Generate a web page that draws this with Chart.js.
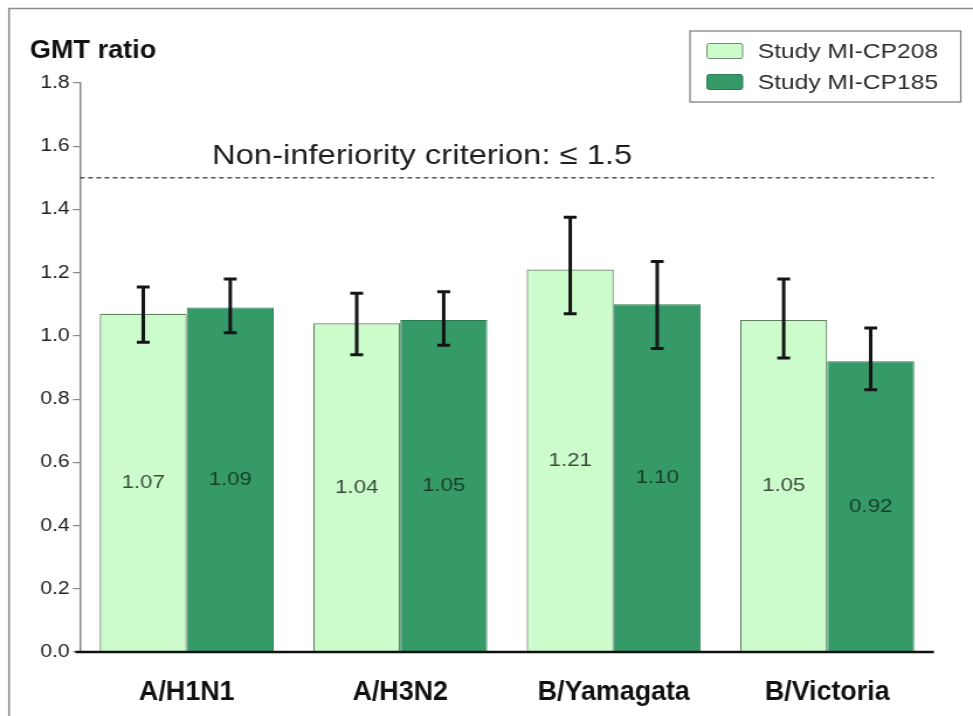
<!DOCTYPE html>
<html>
<head>
<meta charset="utf-8">
<script src="https://cdn.jsdelivr.net/npm/chart.js@4/dist/chart.umd.min.js"></script>
<style>
  body { margin: 0; background: #fff; }
  canvas { display: block; }
</style>
</head>
<body>
<!-- the original picture is stretched sideways, so the canvas is drawn narrower and widened by css -->
<canvas id="gmtChart" width="832" height="716" style="width:973px;height:716px"></canvas>
<script>
  const categories = ["A/H1N1", "A/H3N2", "B/Yamagata", "B/Victoria"];
  const cp208 = [1.07, 1.04, 1.21, 1.05];
  const cp185 = [1.09, 1.05, 1.10, 0.92];
  const cp208Low = [0.98, 0.94, 1.07, 0.93];
  const cp208High = [1.155, 1.135, 1.375, 1.18];
  const cp185Low = [1.01, 0.97, 0.96, 0.83];
  const cp185High = [1.18, 1.14, 1.235, 1.025];
  const yTicks = [0, 0.2, 0.4, 0.6, 0.8, 1.0, 1.2, 1.4, 1.6, 1.8];
  const criterion = 1.5;

  const lightGreen = "#ccfccc";
  const darkGreen = "#359a68";

  // text squeezed sideways (narrow font look of the original)
  function narrowText(ctx, txt, x, y, sx) {
    ctx.save();
    ctx.translate(x, y);
    ctx.scale(sx, 1);
    ctx.fillText(txt, 0, 0);
    ctx.restore();
  }

  const extras = {
    id: "extras",
    beforeDraw(chart) {
      const { ctx } = chart;
      ctx.save();
      // frame of the picture, only top and left edges show
      ctx.strokeStyle = "#8a8a8a";
      ctx.lineWidth = 1.5;
      ctx.beginPath();
      ctx.moveTo(7.7, 716);
      ctx.lineTo(7.7, 8.5);
      ctx.lineTo(832, 8.5);
      ctx.stroke();

      ctx.fillStyle = "#111";
      ctx.font = "bold 26px 'Liberation Sans', Arial, sans-serif";
      ctx.textBaseline = "alphabetic";
      narrowText(ctx, "GMT ratio", 25.6, 58, 0.89);
      ctx.restore();
    },
    afterDatasetsDraw(chart) {
      const { ctx, chartArea, scales } = chart;
      const x = scales.x;
      const y = scales.y;
      ctx.save();

      // value labels in the middle of each bar
      ctx.font = "19px 'Liberation Sans', Arial, sans-serif";
      ctx.textAlign = "center";
      ctx.textBaseline = "middle";
      [[0, cp208, "#3a4d3a"], [1, cp185, "#173d28"]].forEach(([di, vals, col]) => {
        chart.getDatasetMeta(di).data.forEach((bar, i) => {
          ctx.fillStyle = col;
          ctx.fillText(vals[i].toFixed(2), bar.x, (bar.y + bar.base) / 2);
        });
      });

      // error bars
      ctx.strokeStyle = "#151515";
      ctx.lineWidth = 3;
      [[0, cp208Low, cp208High], [1, cp185Low, cp185High]].forEach(([di, lo, hi]) => {
        chart.getDatasetMeta(di).data.forEach((bar, i) => {
          const yl = y.getPixelForValue(lo[i]);
          const yh = y.getPixelForValue(hi[i]);
          ctx.beginPath();
          ctx.moveTo(bar.x, yl);
          ctx.lineTo(bar.x, yh);
          ctx.moveTo(bar.x - 5.5, yl);
          ctx.lineTo(bar.x + 5.5, yl);
          ctx.moveTo(bar.x - 5.5, yh);
          ctx.lineTo(bar.x + 5.5, yh);
          ctx.stroke();
        });
      });

      // x axis base line
      ctx.strokeStyle = "#111";
      ctx.lineWidth = 2.5;
      ctx.beginPath();
      ctx.moveTo(chartArea.left - 4, chartArea.bottom);
      ctx.lineTo(chartArea.right, chartArea.bottom);
      ctx.stroke();

      // category labels
      ctx.fillStyle = "#111";
      ctx.font = "bold 28px 'Liberation Sans', Arial, sans-serif";
      ctx.textAlign = "center";
      ctx.textBaseline = "alphabetic";
      categories.forEach((c, i) => {
        narrowText(ctx, c, x.getPixelForTick(i), chartArea.bottom + 48, 0.82);
      });

      // non-inferiority line
      const yc = y.getPixelForValue(criterion);
      ctx.strokeStyle = "#555";
      ctx.lineWidth = 1.5;
      ctx.setLineDash([4, 3]);
      ctx.beginPath();
      ctx.moveTo(chartArea.left, yc);
      ctx.lineTo(chartArea.right, yc);
      ctx.stroke();
      ctx.setLineDash([]);

      ctx.fillStyle = "#1e1e1e";
      ctx.font = "28px 'Liberation Sans', Arial, sans-serif";
      ctx.textAlign = "left";
      ctx.fillText("Non-inferiority criterion: \u2264 1.5", 181.3, 164);

      // legend box
      ctx.strokeStyle = "#777";
      ctx.lineWidth = 1.2;
      ctx.fillStyle = "#fff";
      ctx.fillRect(590, 31, 231.5, 71);
      ctx.strokeRect(590, 31, 231.5, 71);
      const rows = [["Study MI-CP208", lightGreen, "#6d8f6d", 51], ["Study MI-CP185", darkGreen, "#2a7a52", 82]];
      ctx.font = "21px 'Liberation Sans', Arial, sans-serif";
      ctx.textBaseline = "middle";
      rows.forEach(([txt, fill, edge, cy]) => {
        ctx.fillStyle = fill;
        ctx.strokeStyle = edge;
        ctx.lineWidth = 1;
        ctx.beginPath();
        ctx.roundRect(604.5, cy - 7.5, 30.5, 15, 2);
        ctx.fill();
        ctx.stroke();
        ctx.fillStyle = "#2b2b2b";
        ctx.fillText(txt, 648, cy + 1);
      });
      ctx.restore();
    }
  };

  new Chart(document.getElementById("gmtChart"), {
    type: "bar",
    data: {
      labels: categories,
      datasets: [
        {
          label: "Study MI-CP208",
          data: cp208,
          backgroundColor: lightGreen,
          borderColor: "#627f62",
          borderWidth: 1.2,
          borderSkipped: "bottom",
        },
        {
          label: "Study MI-CP185",
          data: cp185,
          backgroundColor: darkGreen,
          borderColor: "#2a7a52",
          borderWidth: 1,
          borderSkipped: "bottom",
        },
      ],
    },
    options: {
      responsive: false,
      animation: false,
      devicePixelRatio: 1,
      categoryPercentage: 0.815,
      barPercentage: 1.0,
      layout: { padding: { left: 0, right: 33.4, top: 83, bottom: 0 } },
      plugins: {
        legend: { display: false },
        tooltip: { enabled: false },
      },
      scales: {
        x: {
          grid: { display: false, drawTicks: false },
          border: { display: false },
          ticks: { display: false },
          afterFit: (s) => { s.height = 64; },
        },
        y: {
          min: 0,
          max: 1.8,
          afterBuildTicks: (s) => { s.ticks = yTicks.map((v) => ({ value: v })); },
          grid: { display: true, drawOnChartArea: false, drawTicks: true, tickLength: 6, color: "#888", lineWidth: 1.2 },
          border: { display: true, color: "#888", width: 1.5 },
          ticks: {
            padding: 3,
            color: "#222",
            font: { family: "'Liberation Sans', Arial", size: 18 },
            callback: (v) => Number(v).toFixed(1),
          },
          afterFit: (s) => { s.width = 68.4; },
        },
      },
    },
    plugins: [extras],
  });
</script>
</body>
</html>
